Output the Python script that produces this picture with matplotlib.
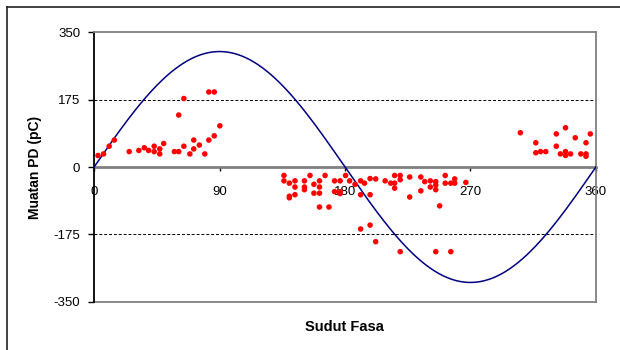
import numpy as np
import matplotlib
matplotlib.use("Agg")
import matplotlib.pyplot as plt
from matplotlib.lines import Line2D

plt.rcParams['font.family'] = ['Liberation Sans', 'DejaVu Sans']

# Reference voltage waveform (amplitude in pC scale)
wave_amplitude = 300
wave_phase = np.linspace(0, 360, 361)

# Partial discharge events: phase angle (deg) and charge (pC)
pd_phase = [
    2.8, 6.8, 10.8, 14.5, 25.2, 32.1, 36.0, 39.1, 43.1, 43.1, 47.1, 47.1, 49.9,
    57.6, 60.7, 60.7, 64.4, 64.4, 68.7, 71.5, 71.5, 75.5, 79.4, 82.3, 86.2,
    82.3, 86.2, 90.2,
    136.2, 136.2, 140.1, 140.1, 140.1, 144.1, 144.1, 144.1, 150.9, 150.9, 150.9,
    154.9, 157.7, 157.7, 161.7, 161.7, 161.7, 161.7, 165.7, 168.5, 172.5, 172.5,
    176.5, 176.5, 176.5, 180.4, 183.3, 187.2, 191.2, 191.2, 191.2, 194.0, 198.0,
    198.0, 198.0, 202.0, 202.0, 208.8, 212.8, 215.6, 215.6, 215.6, 219.6, 219.6,
    219.6, 226.4, 226.4, 234.4, 234.4, 237.2, 241.2, 241.2, 245.1, 245.1, 245.1,
    245.1, 247.9, 251.9, 251.9, 255.9, 255.9, 258.7, 258.7, 266.7,
    305.8, 316.9, 316.9, 320.3, 324.0, 331.6, 331.6, 334.5, 338.2, 338.2, 338.2,
    341.8, 345.2, 349.2, 352.9, 352.9, 352.9, 356.0,
]
pd_charge = [
    30, 34, 54, 70, 40, 43, 50, 43, 54, 40, 47, 34, 61,
    40, 40, 135, 178, 54, 34, 47, 70, 57, 34, 70, 81,
    195, 195, 107,
    -22, -36, -42, -76, -80, -36, -52, -72, -36, -52, -59,
    -22, -45, -68, -36, -52, -68, -104, -22, -104, -36, -64,
    -36, -64, -69, -22, -36, -45, -36, -72, -161, -42, -30,
    -72, -151, -31, -194, -36, -42, -22, -42, -55, -22, -33,
    -220, -26, -78, -26, -62, -38, -36, -52, -38, -47, -59,
    -220, -101, -22, -42, -42, -220, -31, -42, -40,
    89, 63, 37, 40, 40, 54, 86, 34, 40, 30, 102,
    34, 76, 34, 63, 34, 28, 86,
]

y_ticks = [-350, -175, 0, 175, 350]
x_ticks = [0, 90, 180, 270, 360]

fig = plt.figure(figsize=(6.2, 3.5), dpi=100)
ax = fig.add_axes([94.1 / 620, 48.3 / 350, 501.8 / 620, 269.4 / 350])

# Dashed guide lines at +/-175
for yv in (175, -175):
    ax.axhline(yv, color='black', lw=0.7, ls=(0, (3, 2)), zorder=1)

ax.plot(wave_phase, wave_amplitude * np.sin(np.radians(wave_phase)),
        color='#000080', lw=1.1, zorder=3)
ax.scatter(pd_phase, pd_charge, s=16, color='#ff0000', edgecolors='none', zorder=4)

ax.set_xlim(0, 360)
ax.set_ylim(-350, 350)

# Spines: zero axis in gray, plot frame gray, value axis black
ax.spines['bottom'].set_position(('data', 0))
ax.spines['bottom'].set_color('#808080')
ax.spines['bottom'].set_linewidth(2.0)
ax.spines['bottom'].set_zorder(2)
ax.spines['left'].set_color('black')
ax.spines['left'].set_linewidth(1.3)
for s in ('top', 'right'):
    ax.spines[s].set_color('#808080')
    ax.spines[s].set_linewidth(1.3)
ax.add_line(Line2D([0, 1], [0, 0], transform=ax.transAxes, color='#808080',
                   lw=1.3, clip_on=False))

ax.set_xticks(x_ticks)
ax.set_xticklabels([str(v) for v in x_ticks])
ax.set_yticks(y_ticks)
ax.set_yticklabels([str(v) for v in y_ticks])
ax.tick_params(axis='x', direction='out', length=3, width=1, color='black',
               pad=11, labelsize=9.5)
ax.tick_params(axis='y', direction='out', length=4, width=1, color='black',
               pad=6, labelsize=9.5)

fig.text(344.6 / 620, 1 - 327 / 350, 'Sudut Fasa', ha='center', va='center',
         fontsize=10.5, fontweight='bold')
fig.text(35 / 620, 1 - 167 / 350, 'Muatan PD (pC)', ha='center', va='center',
         rotation=90, fontsize=10, fontweight='bold')

# Outer chart frame
fig.add_artist(Line2D([7 / 620, 7 / 620], [0, 1 - 7 / 350], transform=fig.transFigure,
                      color='#222222', lw=1.2))
fig.add_artist(Line2D([7 / 620, 1], [1 - 7 / 350, 1 - 7 / 350], transform=fig.transFigure,
                      color='#222222', lw=1.2))

fig.savefig('out.png', dpi=100)
